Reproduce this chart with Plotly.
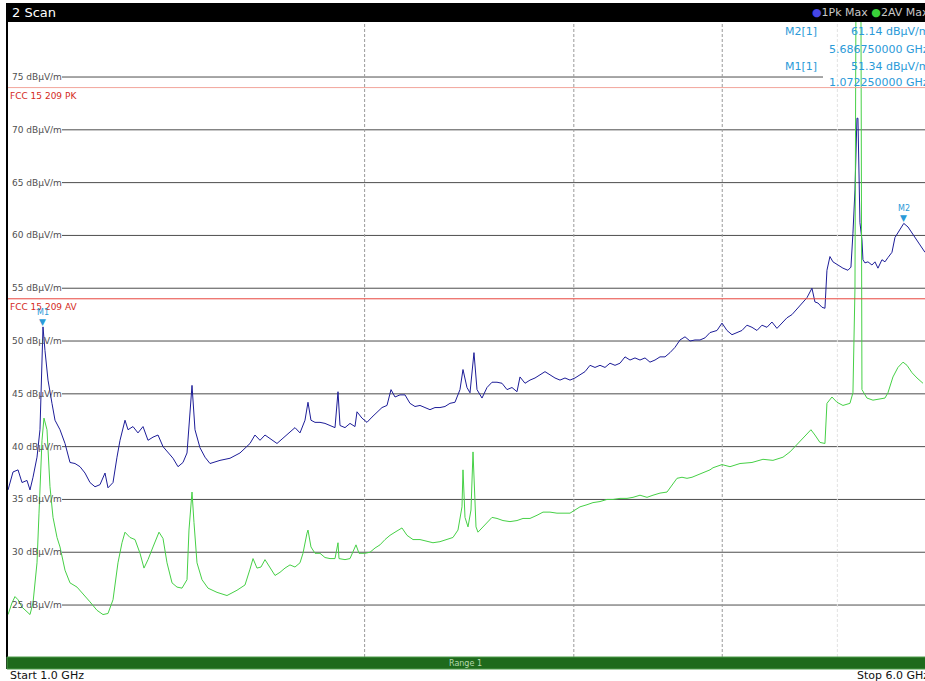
import math
import plotly.graph_objects as go

# ---------------- data ----------------
pk_freq_ghz = [
    1.002, 1.0117, 1.0216, 1.0295, 1.0395, 1.0456, 1.0517, 1.0599, 1.0660, 1.07225,
    1.0764, 1.0827, 1.0911, 1.0975, 1.1082, 1.1190, 1.1299, 1.1409, 1.1520, 1.1632,
    1.1745, 1.1860, 1.1975, 1.2092, 1.2162, 1.2281, 1.2376, 1.2449, 1.2570, 1.2643,
    1.2766, 1.2890, 1.3016, 1.3143, 1.3271, 1.3400, 1.3531, 1.3662, 1.3796, 1.3930,
    1.4065, 1.4175, 1.4257, 1.4313, 1.4396, 1.4536, 1.4678, 1.4821, 1.5111, 1.5407,
    1.5708, 1.6016, 1.6171, 1.6329, 1.6488, 1.6648, 1.6876, 1.7073, 1.7306, 1.7475,
    1.7645, 1.7817, 1.7921, 1.8025, 1.8166, 1.8343, 1.8521, 1.8702, 1.8884, 1.8994,
    1.9068, 1.9254, 1.9441, 1.9630, 1.9707, 1.9898, 2.0092, 2.0288, 2.0485, 2.0685,
    2.0886, 2.1049, 2.1213, 2.1419, 2.1628, 2.1838, 2.2051, 2.2266, 2.2482, 2.2701,
    2.2922, 2.3145, 2.3371, 2.3598, 2.3828, 2.4060, 2.4201, 2.4389, 2.4532, 2.4722,
    2.4867, 2.5109, 2.5354, 2.5601, 2.5850, 2.6102, 2.6356, 2.6612, 2.6871, 2.7028,
    2.7292, 2.7557, 2.7826, 2.8097, 2.8370, 2.8646, 2.8925, 2.9207, 2.9491, 2.9779,
    3.0068, 3.0361, 3.0657, 3.0956, 3.1257, 3.1562, 3.1869, 3.2179, 3.2493, 3.2809,
    3.3129, 3.3451, 3.3777, 3.4106, 3.4438, 3.4773, 3.5112, 3.5454, 3.5799, 3.6147,
    3.6499, 3.6855, 3.7214, 3.7576, 3.7942, 3.8311, 3.8684, 3.9061, 3.9595, 3.9980,
    4.0369, 4.0762, 4.1158, 4.1559, 4.1963, 4.2372, 4.2784, 4.3201, 4.3621, 4.4046,
    4.4475, 4.4907, 4.5345, 4.5786, 4.6232, 4.6682, 4.7136, 4.7595, 4.7873, 4.8152,
    4.8527, 4.8810, 4.9000, 4.9286, 4.9573, 5.0060, 5.0543, 5.1036, 5.1333, 5.1532,
    5.1735, 5.1933, 5.2034, 5.2236, 5.2439, 5.2541, 5.2745, 5.3053, 5.3466, 5.3778,
    5.4092, 5.4513, 5.4831, 5.5150, 5.5580, 5.5904, 5.6230, 5.68675, 5.7335, 5.7781,
    5.8118, 5.8684, 5.9255,
]
pk_level_dbuv = [
    35.9, 37.6, 37.8, 36.6, 36.8, 35.9, 37.1, 39.0, 41.6, 51.34,
    49.1, 46.3, 44.1, 42.5, 41.6, 40.3, 38.5, 38.4, 38.1, 37.5,
    36.6, 36.2, 36.4, 37.5, 36.1, 36.6, 39.0, 40.6, 42.5, 41.6,
    41.9, 41.3, 41.9, 40.6, 40.9, 41.1, 40.0, 39.5, 38.9, 38.1,
    38.5, 39.4, 43.2, 45.8, 41.6, 39.9, 39.0, 38.4, 38.7, 38.9,
    39.4, 40.3, 41.1, 40.6, 41.1, 40.8, 40.3, 40.8, 41.4, 41.8,
    41.3, 42.5, 44.2, 42.5, 42.3, 42.3, 42.2, 42.0, 41.8, 45.2,
    42.0, 41.8, 42.2, 41.9, 43.3, 42.7, 42.3, 42.8, 43.3, 43.7,
    43.9, 45.4, 44.7, 44.9, 44.9, 44.1, 43.8, 43.9, 43.7, 43.5,
    43.7, 43.7, 43.8, 44.1, 44.2, 45.4, 47.3, 45.6, 45.1, 48.9,
    45.4, 44.6, 45.6, 46.1, 46.1, 46.0, 45.4, 45.6, 45.2, 46.6,
    46.0, 46.3, 46.5, 46.8, 47.1, 46.8, 46.5, 46.3, 46.5, 46.3,
    46.5, 46.8, 47.1, 47.7, 47.5, 47.7, 47.5, 47.9, 47.7, 47.9,
    48.5, 48.2, 48.4, 48.2, 48.4, 48.0, 48.2, 48.5, 48.5, 48.9,
    49.4, 50.1, 50.4, 50.0, 50.1, 50.1, 50.3, 50.8, 51.0, 51.7,
    51.0, 50.6, 50.8, 51.0, 51.5, 51.3, 51.0, 51.5, 51.3, 51.8,
    51.2, 51.7, 52.2, 52.5, 53.0, 53.6, 54.1, 55.0, 53.7, 53.6,
    53.2, 53.1, 56.7, 58.0, 57.5, 57.2, 56.9, 56.7, 57.0, 60.2,
    64.3, 71.1, 71.1, 61.2, 59.6, 57.7, 57.4, 57.5, 57.2, 57.5,
    56.9, 57.7, 57.5, 57.9, 58.4, 59.8, 60.3, 61.14, 60.8, 60.2,
    59.8, 59.1, 58.4,
]

av_freq_ghz = [
    1.002, 1.0097, 1.0156, 1.0216, 1.0295, 1.0395, 1.0456, 1.0517, 1.0599, 1.0640,
    1.0702, 1.0743, 1.0806, 1.0869, 1.0933, 1.1018, 1.1082, 1.1190, 1.1299, 1.1453,
    1.1587, 1.1745, 1.1906, 1.2045, 1.2162, 1.2281, 1.2400, 1.2497, 1.2570, 1.2692,
    1.2816, 1.2941, 1.3041, 1.3143, 1.3271, 1.3426, 1.3531, 1.3636, 1.3769, 1.3903,
    1.4038, 1.4175, 1.4229, 1.4313, 1.4368, 1.4452, 1.4593, 1.4764, 1.5024, 1.5317,
    1.5617, 1.5861, 1.6016, 1.6110, 1.6234, 1.6361, 1.6488, 1.6648, 1.6811, 1.6975,
    1.7140, 1.7306, 1.7475, 1.7645, 1.7748, 1.7886, 1.7921, 1.8025, 1.8166, 1.8343,
    1.8521, 1.8702, 1.8884, 1.8994, 1.9031, 1.9254, 1.9441, 1.9668, 1.9783, 2.0015,
    2.0210, 2.0407, 2.0605, 2.0806, 2.1008, 2.1213, 2.1502, 2.1712, 2.1966, 2.2266,
    2.2569, 2.2833, 2.3145, 2.3461, 2.3736, 2.3967, 2.4154, 2.4201, 2.4295, 2.4437,
    2.4579, 2.4675, 2.4819, 2.4915, 2.5109, 2.5354, 2.5601, 2.5850, 2.6152, 2.6509,
    2.6871, 2.7186, 2.7557, 2.7934, 2.8261, 2.8646, 2.9037, 2.9378, 2.9779, 3.0068,
    3.0361, 3.0776, 3.1136, 3.1562, 3.1993, 3.2367, 3.2809, 3.3258, 3.3647, 3.4106,
    3.4572, 3.4976, 3.5454, 3.5938, 3.6288, 3.6641, 3.6998, 3.7358, 3.7722, 3.8089,
    3.8535, 3.9061, 3.9289, 3.9980, 4.0605, 4.1400, 4.2372, 4.3285, 4.4132, 4.4996,
    4.5611, 4.6232, 4.6773, 4.7503, 4.7873, 4.8339, 4.8810, 4.8905, 4.9000, 4.9478,
    4.9960, 5.0543, 5.1234, 5.1532, 5.1735, 5.1833, 5.2337, 5.2439, 5.2950, 5.3570,
    5.4302, 5.4831, 5.5150, 5.5688, 5.6230, 5.6782, 5.7224, 5.7781, 5.8344, 5.9025,
]
av_level_dbuv = [
    24.1, 25.2, 25.8, 25.5, 24.8, 24.3, 24.1, 25.2, 29.0, 33.7,
    40.6, 42.7, 41.6, 36.2, 33.3, 31.4, 30.5, 28.3, 27.1, 26.7,
    26.1, 25.3, 24.5, 24.1, 24.2, 25.5, 29.0, 30.9, 31.9, 31.4,
    31.2, 29.9, 28.5, 29.3, 30.5, 31.9, 31.3, 29.0, 27.1, 26.7,
    26.6, 27.4, 32.1, 35.7, 32.8, 29.0, 27.4, 26.6, 26.2, 25.9,
    26.4, 26.9, 28.4, 29.4, 28.5, 28.6, 29.3, 28.6, 27.8, 28.1,
    28.5, 28.8, 28.6, 29.0, 29.9, 31.8, 32.1, 30.5, 29.9, 29.9,
    29.5, 29.4, 29.4, 30.9, 29.4, 29.3, 29.4, 30.7, 29.9, 29.9,
    30.0, 30.4, 30.7, 31.2, 31.6, 31.9, 32.3, 31.6, 31.2, 31.2,
    31.0, 30.9, 31.0, 31.2, 31.4, 32.1, 34.3, 37.8, 33.3, 32.4,
    34.0, 39.5, 32.4, 31.9, 32.3, 32.8, 33.3, 33.2, 33.0, 32.9,
    33.0, 33.2, 33.2, 33.5, 33.8, 33.8, 33.7, 33.7, 33.7, 34.0,
    34.3, 34.5, 34.7, 34.8, 35.0, 35.0, 35.1, 35.1, 35.2, 35.4,
    35.2, 35.4, 35.6, 35.7, 36.4, 37.0, 37.1, 37.0, 37.1, 37.3,
    37.5, 37.8, 38.0, 38.3, 38.1, 38.4, 38.5, 38.8, 38.7, 39.0,
    39.5, 40.2, 40.9, 41.6, 41.1, 40.4, 40.3, 41.7, 44.1, 44.7,
    44.2, 43.9, 44.1, 45.1, 55.0, 82.0, 82.0, 45.4, 44.6, 44.4,
    44.5, 44.6, 45.1, 46.6, 47.5, 48.0, 47.7, 47.0, 46.5, 46.0,
]

y_grid_levels = [25, 30, 35, 40, 45, 50, 55, 60, 65, 70, 75]
x_grid_ghz = [2, 3, 4, 5]
limit_names = ["FCC 15 209 PK", "FCC 15 209 AV"]
limit_levels = [74.0, 54.0]
marker_names = ["M1", "M2"]
marker_freq_ghz = [1.07225, 5.68675]
marker_level = [51.34, 61.14]
start_ghz, stop_ghz = 1.0, 6.0

# ---------------- geometry / style ----------------
W, H = 925, 681
ML, MT, MB = 7, 22, 24
PW = W - ML
PH = H - MT - MB
Y_RANGE = [20.08, 80.21]
X_RANGE_LOG = [0.0, 0.77273]
FONT = "DejaVu Sans"
MARK_COL = "#2a9ad8"


def px_x(px):
    return (px - ML) / PW


def px_y(py):
    return (H - MB - py) / PH


fig = go.Figure()

# vertical dotted grid lines (frequency)
vgrid_colors = ["#9a9a9a", "#9a9a9a", "#9a9a9a", "#e2e2e2"]
for f, c in zip(x_grid_ghz, vgrid_colors):
    fig.add_trace(go.Scatter(x=[f, f], y=Y_RANGE, mode="lines",
                             line=dict(color=c, width=1, dash="3px,2px"),
                             hoverinfo="skip"))

# traces
fig.add_trace(go.Scatter(x=pk_freq_ghz, y=pk_level_dbuv, mode="lines", name="1Pk Max",
                         line=dict(color="#1d1d98", width=1)))
fig.add_trace(go.Scatter(x=av_freq_ghz, y=av_level_dbuv, mode="lines", name="2AV Max",
                         line=dict(color="#46d046", width=1)))

shapes = []
annotations = []

# horizontal grid lines and labels
for lv in y_grid_levels:
    x_end = px_x(823) if lv >= 73 else 1.0
    shapes.append(dict(type="line", xref="paper", yref="y", x0=px_x(62), x1=x_end,
                       y0=lv, y1=lv, line=dict(color="#4d4d4d", width=1), layer="below"))
    annotations.append(dict(xref="paper", yref="y", x=px_x(10), y=lv, text=f"{lv} dBµV/m",
                            showarrow=False, xanchor="left", yanchor="middle",
                            font=dict(family=FONT, size=9, color="#505050")))

# limit lines
limit_colors = ["#f2a59c", "#e8453c"]
for name, lv, c in zip(limit_names, limit_levels, limit_colors):
    shapes.append(dict(type="line", xref="paper", yref="y", x0=0, x1=1, y0=lv, y1=lv,
                       line=dict(color=c, width=1)))
    annotations.append(dict(xref="paper", yref="y", x=px_x(8), y=lv, yshift=-1,
                            text=name, showarrow=False, xanchor="left", yanchor="top",
                            font=dict(family=FONT, size=9, color="#d42a22")))

# markers
for name, f, lv in zip(marker_names, marker_freq_ghz, marker_level):
    annotations.append(dict(xref="x", yref="y", x=math.log10(f), y=lv, text="▼",
                            showarrow=False, xanchor="center", yanchor="bottom", yshift=-2,
                            font=dict(family=FONT, size=9, color=MARK_COL)))
    annotations.append(dict(xref="x", yref="y", x=math.log10(f), y=lv, text=name,
                            showarrow=False, xanchor="center", yanchor="bottom", yshift=8,
                            font=dict(family=FONT, size=8, color=MARK_COL)))

# marker table (top right)
rows = [(32, 49, marker_names[1], marker_freq_ghz[1], marker_level[1]),
        (66, 82, marker_names[0], marker_freq_ghz[0], marker_level[0])]
for y1, y2, name, f, lv in rows:
    annotations.append(dict(xref="paper", yref="paper", x=px_x(783), y=px_y(y1),
                            text=f"{name}[1]", showarrow=False, xanchor="left", yanchor="middle",
                            font=dict(family=FONT, size=11, color=MARK_COL)))
    annotations.append(dict(xref="paper", yref="paper", x=px_x(931), y=px_y(y1),
                            text=f"{lv:.2f} dBµV/m", showarrow=False, xanchor="right",
                            yanchor="middle", font=dict(family=FONT, size=11, color=MARK_COL)))
    annotations.append(dict(xref="paper", yref="paper", x=px_x(931), y=px_y(y2),
                            text=f"{f:.9f} GHz", showarrow=False, xanchor="right",
                            yanchor="middle", font=dict(family=FONT, size=11, color=MARK_COL)))

# header bar
shapes.append(dict(type="rect", xref="paper", yref="paper", x0=px_x(6), x1=1.02,
                   y0=1.0, y1=px_y(3), fillcolor="#000000", line=dict(width=0)))
annotations.append(dict(xref="paper", yref="paper", x=px_x(10), y=px_y(12.5), text="2 Scan",
                        showarrow=False, xanchor="left", yanchor="middle",
                        font=dict(family=FONT, size=13, color="#ffffff")))
annotations.append(dict(xref="paper", yref="paper", x=px_x(931), y=px_y(12.5),
                        text='<span style="color:#4646e6">●</span>1Pk Max '
                             '<span style="color:#3ad23a">●</span>2AV Max',
                        showarrow=False, xanchor="right", yanchor="middle",
                        font=dict(family=FONT, size=11, color="#c8c8c8")))

# left frame line
shapes.append(dict(type="line", xref="paper", yref="paper", x0=0, x1=0,
                   y0=px_y(669), y1=1.0, line=dict(color="#000000", width=2)))

# range bar at bottom
shapes.append(dict(type="rect", xref="paper", yref="paper", x0=0, x1=1.02,
                   y0=px_y(669), y1=px_y(657), fillcolor="#1e6a1c",
                   line=dict(color="#4f9c4b", width=1)))
annotations.append(dict(xref="paper", yref="paper", x=px_x(465), y=px_y(663),
                        text="Range 1", showarrow=False, xanchor="center", yanchor="middle",
                        font=dict(family=FONT, size=8, color="#b6d8ae")))
annotations.append(dict(xref="paper", yref="paper", x=px_x(8), y=px_y(676),
                        text=f"Start {start_ghz:.1f} GHz", showarrow=False, xanchor="left",
                        yanchor="middle", font=dict(family=FONT, size=11, color="#111111")))
annotations.append(dict(xref="paper", yref="paper", x=px_x(931), y=px_y(676),
                        text=f"Stop {stop_ghz:.1f} GHz", showarrow=False, xanchor="right",
                        yanchor="middle", font=dict(family=FONT, size=11, color="#111111")))

fig.update_layout(
    width=W, height=H,
    margin=dict(l=ML, r=0, t=MT, b=MB, pad=0),
    paper_bgcolor="white", plot_bgcolor="white",
    showlegend=False,
    xaxis=dict(type="log", range=X_RANGE_LOG, showgrid=False, zeroline=False,
               showticklabels=False, ticks="", showline=False),
    yaxis=dict(range=Y_RANGE, showgrid=False, zeroline=False,
               showticklabels=False, ticks="", showline=False),
    shapes=shapes,
    annotations=annotations,
)

fig.write_html("out.html", config={"displayModeBar": False})
